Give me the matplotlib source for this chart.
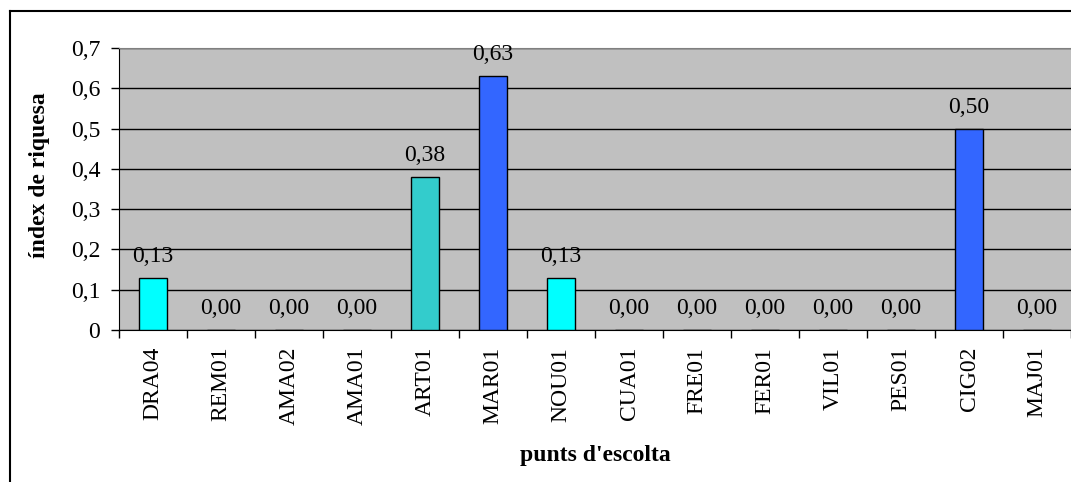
import matplotlib.pyplot as plt
from matplotlib.lines import Line2D
import numpy as np

plt.rcParams['font.family'] = ['Liberation Serif', 'DejaVu Serif']

# Index values per listening point
punts = ['DRA04', 'REM01', 'AMA02', 'AMA01', 'ART01', 'MAR01', 'NOU01',
         'CUA01', 'FRE01', 'FER01', 'VIL01', 'PES01', 'CIG02', 'MAJ01']
index = [0.13, 0.00, 0.00, 0.00, 0.38, 0.63, 0.13,
         0.00, 0.00, 0.00, 0.00, 0.00, 0.50, 0.00]
colors = ['#00FFFF', '#00FFFF', '#00FFFF', '#00FFFF', '#33CCCC', '#3366FF',
          '#00FFFF', '#00FFFF', '#00FFFF', '#00FFFF', '#00FFFF', '#00FFFF',
          '#3366FF', '#00FFFF']

fs = 17

fig = plt.figure(figsize=(10.71, 4.82), dpi=100)
ax = fig.add_axes([119 / 1071, 1 - 330 / 482, 952 / 1071, 282 / 482])

x = np.arange(len(punts))
ax.set_facecolor('#C0C0C0')
ax.set_axisbelow(True)
ax.yaxis.grid(True, color='black', linewidth=1.0)
ax.bar(x, index, width=0.42, color=colors, edgecolor='black', linewidth=1.0,
       zorder=3)

for xi, v in zip(x, index):
    ax.annotate(('%.2f' % v).replace('.', ','), (xi, v), xytext=(0, 15.5),
                textcoords='offset points', ha='center', va='center',
                fontsize=fs)

ax.set_xlim(-0.5, len(punts) - 0.5)
ax.set_ylim(0, 0.7)
ax.set_yticks(np.arange(0, 0.71, 0.1))
ax.set_yticklabels(['0'] + [('%.1f' % t).replace('.', ',')
                            for t in np.arange(0.1, 0.71, 0.1)])

# ticks between categories, labels at the centres
ax.set_xticks(np.arange(-0.5, len(punts), 1.0))
ax.set_xticklabels([])
ax.set_xticks(x, minor=True)
ax.set_xticklabels(punts, minor=True, rotation=90, fontsize=fs)
ax.tick_params(axis='x', which='minor', length=0, pad=12)
ax.tick_params(axis='x', which='major', length=5.5, width=1, direction='out')
ax.tick_params(axis='y', length=5.5, width=1, direction='out', labelsize=fs,
               pad=8)

ax.spines['top'].set_color('#808080')
ax.spines['right'].set_visible(False)
ax.spines['left'].set_color('black')
ax.spines['bottom'].set_color('black')

ax.set_ylabel('índex de riquesa', fontsize=fs, fontweight='bold', va='center')
ax.yaxis.set_label_coords((40 - 119) / 952, (330 - 175) / 282)
ax.set_xlabel("punts d'escolta", fontsize=fs, fontweight='bold', va='center')
ax.xaxis.set_label_coords((595 - 119) / 952, (330 - 455) / 282)

# outer chart frame
fig.add_artist(Line2D([10 / 1071, 10 / 1071], [0, 1 - 11 / 482],
                      transform=fig.transFigure, color='black', linewidth=1.5))
fig.add_artist(Line2D([10 / 1071, 1], [1 - 11 / 482, 1 - 11 / 482],
                      transform=fig.transFigure, color='black', linewidth=1.5))

fig.savefig('out.png', dpi=100)
